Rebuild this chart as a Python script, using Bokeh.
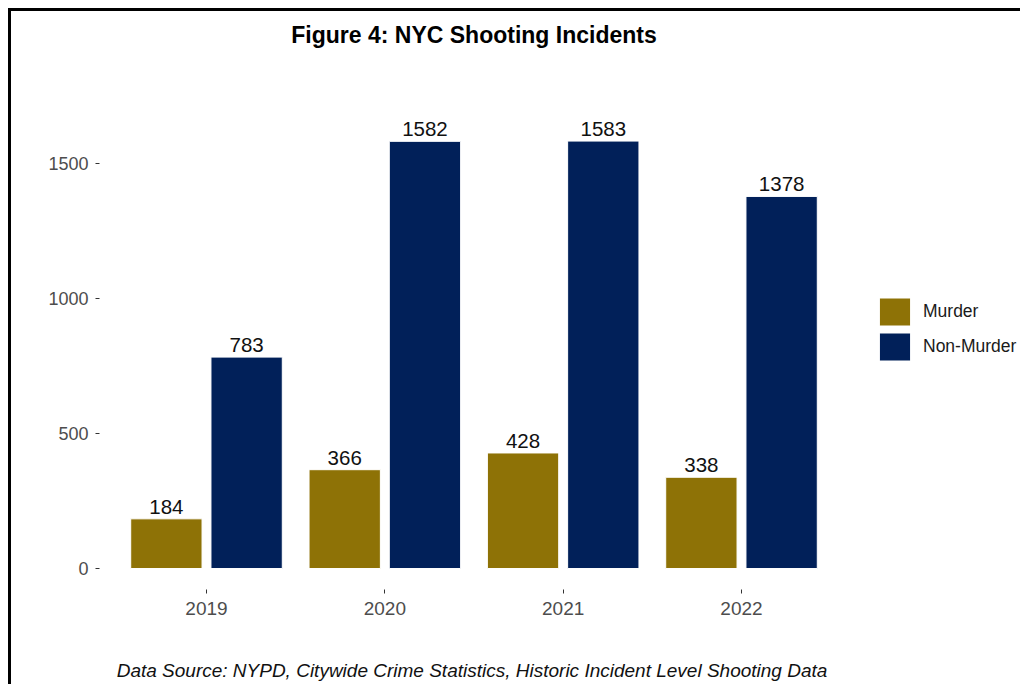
from bokeh.plotting import figure
from bokeh.models import (Range1d, Legend, LegendItem, Label,
                          FixedTicker, ColumnDataSource)
from bokeh.transform import dodge
from bokeh.core.properties import value
from bokeh.embed import file_html
from bokeh.resources import INLINE

# ---- data ----
years = ["2019", "2020", "2021", "2022"]
murder = [184, 366, 428, 338]
non_murder = [783, 1582, 1583, 1378]
series = ["Murder", "Non-Murder"]
colors = ["#8E7206", "#012059"]
y_ticks = [0, 500, 1000, 1500]
title_text = "Figure 4: NYC Shooting Incidents"
caption_text = "Data Source: NYPD, Citywide Crime Statistics, Historic Incident Level Shooting Data"

FONT = "Liberation Sans"

pos = list(range(1, len(years) + 1))
src = ColumnDataSource(dict(
    pos=pos, murder=murder, non_murder=non_murder,
    murder_lbl=[str(v) for v in murder],
    non_lbl=[str(v) for v in non_murder],
))

# ---- layout (page pixels) ----
W, H = 1012, 676                 # canvas; it starts at page (11, 11)
canvas_top, canvas_bottom = 11, 11 + H
left_border = 88
frame_left, frame_right = 11 + left_border, 11 + W
panel_top, panel_bottom = 119.2, 589.4      # area used by the bars
panel_w = 749.0                              # width of the bar area

ymax = max(max(murder), max(non_murder))
pad = 0.05 * ymax
upp = (ymax + 2 * pad) / (panel_bottom - panel_top)      # data units per pixel


def y_at(py):
    return -pad + (panel_bottom - py) * upp


x_lo = 0.4
x_hi = x_lo + (frame_right - frame_left) * (len(years) + 0.2) / panel_w

p = figure(
    x_range=Range1d(x_lo, x_hi),
    y_range=Range1d(y_at(canvas_bottom), y_at(canvas_top)),
    width=W, height=H,
    min_border_left=left_border, min_border_right=0,
    min_border_top=0, min_border_bottom=0,
    output_backend="svg", toolbar_location=None,
)
p.styles = {"border-top": "3px solid black", "border-left": "3px solid black",
            "margin-top": "8px", "margin-left": "8px"}

p.xgrid.grid_line_color = None
p.ygrid.grid_line_color = None
p.outline_line_color = None
p.background_fill_color = "white"
p.border_fill_color = "white"

for ax in (p.xaxis[0], p.yaxis[0]):
    ax.axis_line_color = None
    ax.major_tick_in = 0
    ax.major_tick_out = 4
    ax.major_tick_line_color = "#333333"
    ax.minor_tick_line_color = None
    ax.major_label_text_color = "#4D4D4D"
    ax.major_label_text_font = FONT
p.yaxis.major_label_text_font_size = "18px"
p.xaxis.major_label_text_font_size = "19px"
p.yaxis.ticker = FixedTicker(ticks=y_ticks)
p.yaxis.major_label_standoff = 7
p.xaxis.ticker = FixedTicker(ticks=pos)
p.xaxis.major_label_overrides = {k: y for k, y in zip(pos, years)}
p.xaxis.major_label_standoff = 8
p.xaxis.fixed_location = -pad

off = 0.225
r1 = p.vbar(x=dodge("pos", -off), top="murder", width=0.4, source=src,
            fill_color=colors[0], line_color="white", line_width=1)
r2 = p.vbar(x=dodge("pos", off), top="non_murder", width=0.4, source=src,
            fill_color=colors[1], line_color="white", line_width=1)

for col, lbl, o in (("murder", "murder_lbl", -off), ("non_murder", "non_lbl", off)):
    p.text(x=dodge("pos", o), y=col, text=lbl, source=src,
           text_align="center", text_baseline="alphabetic", y_offset=-12,
           text_font=value(FONT), text_font_size="20.5px", text_color="#111111")

legend = Legend(items=[LegendItem(label=series[0], renderers=[r1]),
                       LegendItem(label=series[1], renderers=[r2])],
                location=(875 - frame_left, canvas_bottom - 363.5),
                glyph_width=39, glyph_height=35, spacing=0,
                padding=0, margin=0, label_standoff=9,
                label_text_font=FONT, label_text_font_size="17.5px", label_text_color="#1A1A1A",
                background_fill_alpha=0, border_line_color=None)
p.add_layout(legend)

x_mid = (pos[0] + pos[-1]) / 2
p.add_layout(Label(x=x_mid, y=y_at(34), text=title_text, text_align="center",
                   text_baseline="alphabetic", text_font=FONT, text_font_size="23px",
                   text_font_style="bold", text_color="black"))
p.add_layout(Label(x=x_mid, y=y_at(669.5), x_offset=-2, text=caption_text, text_align="center",
                   text_baseline="alphabetic", text_font=FONT, text_font_size="19px",
                   text_font_style="italic", text_color="#111111"))

open("out.html", "w").write(file_html(p, INLINE))
